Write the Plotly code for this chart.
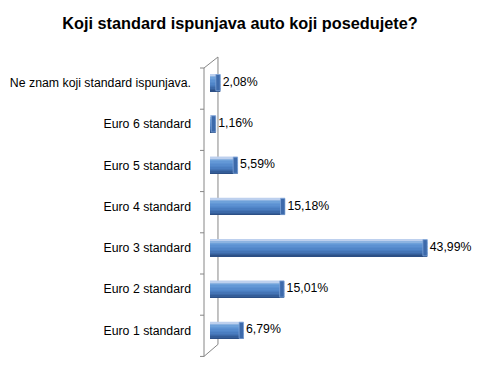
import plotly.graph_objects as go

categories = ["Euro 1 standard", "Euro 2 standard", "Euro 3 standard", "Euro 4 standard",
              "Euro 5 standard", "Euro 6 standard", "Ne znam koji standard ispunjava."]
values = [6.79, 15.01, 43.99, 15.18, 5.59, 1.16, 2.08]
labels = ["\u2009" + f"{v:.2f}".replace(".", ",") + "%" for v in values]
title = "Koji standard ispunjava auto koji posedujete?"

# page has an 8px body margin: size the figure so it fits the 480x377 window
OFF = 8
W, H = 480 - OFF, 377 - OFF
# plot area in page pixels: x 210..457.5, y 62..350.6
ML = 210 - OFF
MR = W - (457.5 - OFF)
MT = 62 - OFF
MB = H - (350.6 - OFF)
PW, PH = W - ML - MR, H - MT - MB
FONT = "Liberation Sans, Arial, sans-serif"

def px(x):  # page pixel -> paper
    return (x - OFF - ML) / PW

def py(y):
    return (H - MB - (y - OFF)) / PH

fig = go.Figure()

# cylinder shading: stacked stripes from bottom (dark) to top (light)
bar_h = 0.41
stripe_colors = ["#2c4f85", "#345d98", "#3c69a8", "#4474b5", "#4a7dc0", "#5085c8",
                 "#568bcd", "#5c91d2", "#6398d6", "#6ea1da", "#8cb3e1", "#bdd0ee"]
n = len(stripe_colors)
sw = bar_h / n
for i, c in enumerate(stripe_colors):
    fig.add_trace(go.Bar(
        y=categories, x=values, orientation="h",
        width=sw * 1.15, offset=-bar_h / 2 + i * sw,
        marker=dict(color=c, line=dict(width=0)),
        hoverinfo="skip", showlegend=False,
    ))

# end caps
cap = 0.9
fig.add_trace(go.Bar(
    y=categories, x=[cap] * len(values), base=[v - cap for v in values], orientation="h",
    width=bar_h * 0.96, offset=-bar_h * 0.48,
    marker=dict(color="#3d6aab", line=dict(width=0.7, color="#86aadb")),
    hoverinfo="skip", showlegend=False,
))

fig.add_trace(go.Scatter(
    y=categories, x=values, mode="text", text=labels,
    textposition="middle right", textfont=dict(family=FONT, size=12.3, color="#000000"),
    hoverinfo="skip", showlegend=False, cliponaxis=False,
))

# 3D frame decoration
line = dict(color="#868686", width=1)
shapes = [
    dict(type="line", x0=px(204), x1=px(204), y0=py(68), y1=py(356)),
    dict(type="line", x0=px(218), x1=px(218), y0=py(57), y1=py(344)),
    dict(type="line", x0=px(204), x1=px(218), y0=py(68), y1=py(57)),
    dict(type="line", x0=px(204), x1=px(218), y0=py(356), y1=py(344)),
]
for k in range(8):
    yy = 68 + k * (356 - 68) / 7
    shapes.append(dict(type="line", x0=px(200), x1=px(204), y0=py(yy), y1=py(yy)))
for s in shapes:
    s.update(xref="paper", yref="paper", line=line, layer="below")

fig.update_layout(
    width=W, height=H,
    margin=dict(l=ML, r=MR, t=MT, b=MB, autoexpand=False),
    paper_bgcolor="white", plot_bgcolor="white",
    barmode="overlay",
    title=dict(text="<b>" + title + "</b>", x=(240 - OFF) / W, xref="container", xanchor="center",
               y=1 - (23 - OFF) / H, yref="container", yanchor="middle",
               font=dict(family=FONT, size=16.3, color="#000000")),
    xaxis=dict(range=[0, 50], visible=False, fixedrange=True, automargin=False),
    yaxis=dict(type="category", categoryorder="array", categoryarray=categories,
               showline=False, showgrid=False, zeroline=False, ticks="",
               ticklabelstandoff=18, fixedrange=True, automargin=False,
               tickfont=dict(family=FONT, size=12.3, color="#000000")),
    shapes=shapes,
    font=dict(family=FONT),
)

fig.write_html("out.html")
